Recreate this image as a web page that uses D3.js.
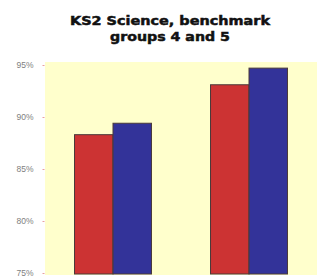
<!DOCTYPE html>
<html><head><meta charset="utf-8">
<script src="https://cdn.jsdelivr.net/npm/d3@7"></script>
<style>body{margin:0;background:#fff}svg{display:block}</style>
</head><body>
<svg id="c" width="317" height="280"></svg>
<script>
const categories = ["Group 4", "Group 5"];
const seriesNames = ["School", "Benchmark"];
const schoolValues = [88.3, 93.1];
const benchmarkValues = [89.4, 94.7];
const tickValues = [75, 80, 85, 90, 95];
const titleLines = ["KS2 Science, benchmark", "groups 4 and 5"];
const colors = ["#cc3333", "#333399"];

const svg = d3.select("#c");
const m = {l: 45, r: 317, t: 62, b: 275};
const y = d3.scaleLinear().domain([75, 95]).range([273, 65]);
const x0 = d3.scaleBand().domain(categories).range([m.l, m.r]).paddingInner(0.434).paddingOuter(0.217);
const x1 = d3.scaleBand().domain(seriesNames).range([0, x0.bandwidth()]);

svg.append("rect").attr("x", m.l).attr("y", m.t).attr("width", m.r - m.l).attr("height", m.b - m.t).attr("fill", "#ffffcc");

const data = categories.map((c, i) => ({c, vals: [schoolValues[i], benchmarkValues[i]]}));
const g = svg.append("g");
data.forEach(d => {
  d.vals.forEach((v, j) => {
    g.append("rect")
      .attr("x", x0(d.c) + x1(seriesNames[j]))
      .attr("y", y(v))
      .attr("width", x1.bandwidth())
      .attr("height", y(75) - y(v) + 1)
      .attr("fill", colors[j])
      .attr("stroke", "#4a3a3a").attr("stroke-width", 1);
  });
});

const axis = d3.axisLeft(y).tickValues(tickValues).tickFormat(d => d + "%").tickSize(2).tickPadding(9);
const ag = svg.append("g").attr("transform", `translate(${m.l - 0.5},0)`).call(axis);
ag.select(".domain").remove();
ag.selectAll(".tick line").attr("stroke", "#e8a0a0");
ag.selectAll(".tick text").attr("fill", "#808080").attr("font-family", "Arial, 'Liberation Sans', sans-serif").attr("font-size", 8.5);

const titleWidths = [200, 120];
svg.selectAll(".title").data(titleLines).enter().append("text")
  .attr("x", 170).attr("y", (d, i) => 25 + i * 16)
  .attr("text-anchor", "middle")
  .attr("font-family", "'DejaVu Sans', Verdana, sans-serif")
  .attr("font-weight", "bold").attr("font-size", 12.5)
  .attr("textLength", (d, i) => titleWidths[i])
  .attr("lengthAdjust", "spacingAndGlyphs")
  .attr("stroke", "#111").attr("stroke-width", 0.5)
  .attr("fill", "#111")
  .text(d => d);
</script>
</body></html>
